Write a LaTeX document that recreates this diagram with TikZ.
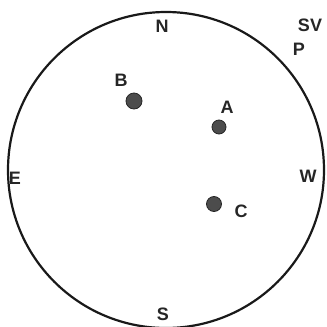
\documentclass[tikz,border=0pt]{standalone}
\usepackage{fontspec}
\setmainfont{Liberation Sans}
\begin{document}
\begin{tikzpicture}[x=1pt,y=-1pt,
  lbl/.style={font=\fontsize{18}{18}\selectfont\bfseries, inner sep=0pt, text=black!85},
  dot/.style={circle, fill=black!70, draw=black!85, line width=0.8pt, inner sep=0pt}]
\useasboundingbox (0,0) rectangle (327,327);
\node[circle, draw=black!90, line width=2.2pt, minimum size=316pt, inner sep=0pt] (rim) at (166,170) {};
\node[dot, minimum size=16pt] (B) at (134,101) {};
\node[dot, minimum size=14pt] (A) at (219,127) {};
\node[dot, minimum size=15pt] (C) at (214,204) {};
\node[lbl] (lB) at (121,80) {B};
\node[lbl] (lA) at (227,107) {A};
\node[lbl] (lC) at (241,211) {C};
\node[lbl] (lN) at (162,26) {N};
\node[lbl] (lS) at (163,314) {S};
\node[lbl] (lE) at (15,178) {E};
\node[lbl] (lW) at (308,176) {W};
\node[lbl] (lSV) at (310,25) {SV};
\node[lbl] (lP) at (299,49) {P};
\end{tikzpicture}
\end{document}
